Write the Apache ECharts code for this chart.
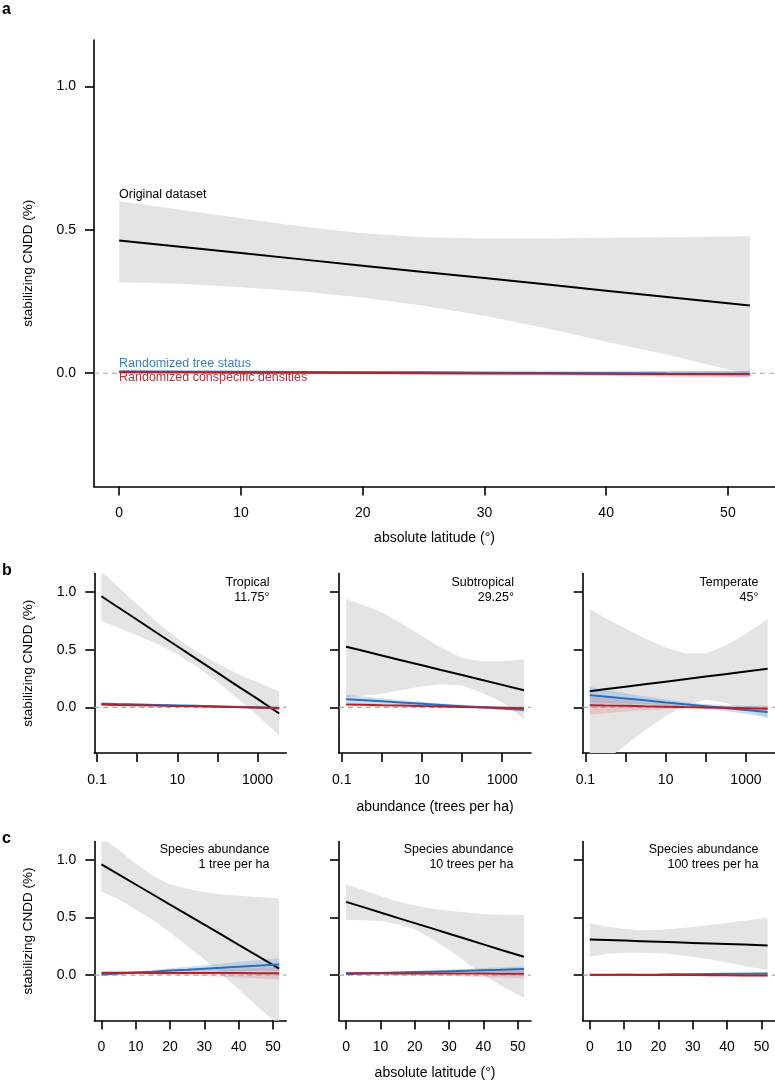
<!DOCTYPE html>
<html><head><meta charset="utf-8">
<script src="https://cdn.jsdelivr.net/npm/echarts@6/dist/echarts.min.js"></script>
<style>html,body{margin:0;padding:0;background:#fff}#c{width:775px;height:1086px}</style>
</head><body><div id="c"></div>
<script>
// ---------- data ----------
const latX = [0, 5, 10, 15, 20, 25, 30, 35, 40, 45, 51.8];
const abundX = [0.129, 0.3, 1, 3, 10, 30, 100, 300, 1000, 3470];
const latTicks = [0, 10, 20, 30, 40, 50];
const abundTicks = [0.1, 1, 10, 100, 1000];
const abundLabels = [0.1, 10, 1000];
const yTicks = [0, 0.5, 1];

// panel a
const aMean = [0.463, 0.441, 0.419, 0.397, 0.375, 0.353, 0.332, 0.310, 0.288, 0.266, 0.236];
const aHi = [0.600, 0.570, 0.540, 0.512, 0.488, 0.474, 0.470, 0.470, 0.472, 0.474, 0.478];
const aLo = [0.317, 0.312, 0.300, 0.285, 0.264, 0.235, 0.200, 0.158, 0.110, 0.065, -0.005];
const aBlue = [0.006, 0.005, 0.005, 0.004, 0.003, 0.003, 0.002, 0.001, 0.000, -0.001, -0.002];
const aBlueHi = [0.012, 0.010, 0.009, 0.008, 0.007, 0.007, 0.007, 0.007, 0.007, 0.008, 0.009];
const aBlueLo = [0.000, 0.000, 0.001, 0.000, -0.001, -0.001, -0.003, -0.005, -0.007, -0.010, -0.013];
const aRed = [0.004, 0.003, 0.002, 0.002, 0.001, 0.000, -0.001, -0.001, -0.002, -0.003, -0.004];
const aRedHi = [0.010, 0.008, 0.007, 0.006, 0.005, 0.005, 0.005, 0.005, 0.006, 0.007, 0.008];
const aRedLo = [-0.002, -0.002, -0.003, -0.002, -0.003, -0.005, -0.007, -0.008, -0.010, -0.013, -0.016];

// panel b1 Tropical
const b1Mean = [0.965, 0.880, 0.761, 0.650, 0.531, 0.421, 0.302, 0.191, 0.074, -0.052];
const b1Hi = [1.180, 1.060, 0.896, 0.745, 0.601, 0.486, 0.382, 0.296, 0.219, 0.138];
const b1Lo = [0.750, 0.700, 0.626, 0.555, 0.461, 0.356, 0.222, 0.086, -0.071, -0.242];
const b1Blue = [0.033, 0.030, 0.026, 0.022, 0.018, 0.014, 0.009, 0.005, 0.000, -0.006];
const b1BlueHi = [0.045, 0.041, 0.035, 0.030, 0.025, 0.021, 0.017, 0.014, 0.011, 0.008];
const b1BlueLo = [0.021, 0.019, 0.017, 0.014, 0.011, 0.007, 0.001, -0.004, -0.011, -0.020];
const b1Red = [0.025, 0.022, 0.019, 0.016, 0.013, 0.010, 0.007, 0.003, 0.000, -0.004];
const b1RedHi = [0.037, 0.033, 0.028, 0.024, 0.020, 0.017, 0.014, 0.012, 0.010, 0.009];
const b1RedLo = [0.013, 0.011, 0.010, 0.008, 0.006, 0.003, 0.000, -0.006, -0.010, -0.017];

// panel b2 Subtropical
const b2Mean = [0.527, 0.496, 0.451, 0.410, 0.366, 0.325, 0.281, 0.240, 0.196, 0.150];
const b2Hi = [0.943, 0.895, 0.825, 0.730, 0.620, 0.520, 0.430, 0.400, 0.400, 0.416];
const b2Lo = [0.084, 0.100, 0.120, 0.150, 0.185, 0.200, 0.190, 0.130, 0.045, -0.100];
const b2Blue = [0.072, 0.064, 0.053, 0.043, 0.032, 0.022, 0.011, 0.001, -0.009, -0.020];
const b2BlueHi = [0.110, 0.097, 0.079, 0.063, 0.047, 0.035, 0.023, 0.013, 0.005, -0.003];
const b2BlueLo = [0.034, 0.031, 0.027, 0.023, 0.017, 0.009, -0.001, -0.011, -0.023, -0.037];
const b2Red = [0.026, 0.023, 0.019, 0.016, 0.012, 0.009, 0.005, 0.002, -0.002, -0.006];
const b2RedHi = [0.040, 0.035, 0.030, 0.025, 0.020, 0.016, 0.013, 0.011, 0.009, 0.008];
const b2RedLo = [0.012, 0.011, 0.008, 0.007, 0.004, 0.002, -0.003, -0.007, -0.013, -0.020];

// panel b3 Temperate
const b3Mean = [0.141, 0.157, 0.180, 0.201, 0.224, 0.245, 0.268, 0.289, 0.312, 0.336];
const b3Hi = [0.851, 0.781, 0.685, 0.601, 0.521, 0.470, 0.470, 0.534, 0.640, 0.765];
const b3Lo = [-0.569, -0.467, -0.325, -0.199, -0.073, 0.020, 0.067, 0.044, -0.020, -0.095];
const b3Blue = [0.107, 0.095, 0.078, 0.062, 0.044, 0.028, 0.011, -0.005, -0.022, -0.040];
const b3BlueHi = [0.177, 0.155, 0.123, 0.097, 0.069, 0.048, 0.031, 0.020, 0.013, 0.005];
const b3BlueLo = [0.037, 0.035, 0.033, 0.027, 0.019, 0.008, -0.009, -0.030, -0.057, -0.085];
const b3Red = [0.020, 0.017, 0.014, 0.010, 0.007, 0.003, 0.000, -0.003, -0.007, -0.011];
const b3RedHi = [0.100, 0.085, 0.064, 0.045, 0.029, 0.018, 0.012, 0.012, 0.015, 0.019];
const b3RedLo = [-0.060, -0.051, -0.036, -0.025, -0.015, -0.012, -0.012, -0.018, -0.029, -0.041];

// panel c1 1 tree per ha
const c1Mean = [0.963, 0.876, 0.788, 0.701, 0.613, 0.526, 0.438, 0.351, 0.263, 0.176, 0.057];
const c1Hi = [1.200, 1.090, 0.970, 0.865, 0.790, 0.750, 0.720, 0.700, 0.690, 0.680, 0.667];
const c1Lo = [0.725, 0.660, 0.570, 0.480, 0.370, 0.253, 0.135, 0.005, -0.125, -0.260, -0.440];
const c1Blue = [0.005, 0.013, 0.022, 0.030, 0.039, 0.047, 0.056, 0.064, 0.073, 0.081, 0.093];
const c1BlueHi = [0.015, 0.023, 0.034, 0.045, 0.059, 0.072, 0.086, 0.099, 0.113, 0.126, 0.148];
const c1BlueLo = [-0.005, 0.003, 0.010, 0.015, 0.019, 0.022, 0.026, 0.029, 0.033, 0.036, 0.038];
const c1Red = [0.020, 0.020, 0.020, 0.019, 0.019, 0.019, 0.018, 0.018, 0.018, 0.017, 0.017];
const c1RedHi = [0.030, 0.031, 0.033, 0.035, 0.038, 0.042, 0.046, 0.051, 0.056, 0.062, 0.072];
const c1RedLo = [0.010, 0.009, 0.007, 0.003, 0.000, -0.004, -0.010, -0.015, -0.020, -0.028, -0.038];

// panel c2 10 trees per ha
const c2Mean = [0.637, 0.591, 0.545, 0.498, 0.452, 0.406, 0.360, 0.314, 0.267, 0.221, 0.159];
const c2Hi = [0.789, 0.740, 0.690, 0.640, 0.605, 0.578, 0.560, 0.545, 0.532, 0.525, 0.522];
const c2Lo = [0.480, 0.478, 0.470, 0.445, 0.400, 0.315, 0.220, 0.110, 0.000, -0.090, -0.200];
const c2Blue = [0.010, 0.014, 0.018, 0.022, 0.026, 0.030, 0.034, 0.038, 0.042, 0.046, 0.052];
const c2BlueHi = [0.018, 0.021, 0.025, 0.030, 0.035, 0.041, 0.047, 0.054, 0.061, 0.068, 0.080];
const c2BlueLo = [0.002, 0.007, 0.011, 0.014, 0.017, 0.019, 0.021, 0.022, 0.023, 0.024, 0.024];
const c2Red = [0.015, 0.015, 0.015, 0.014, 0.014, 0.014, 0.013, 0.013, 0.013, 0.012, 0.012];
const c2RedHi = [0.030, 0.029, 0.028, 0.028, 0.029, 0.031, 0.034, 0.038, 0.042, 0.046, 0.052];
const c2RedLo = [0.000, 0.001, 0.002, 0.000, -0.001, -0.003, -0.008, -0.012, -0.016, -0.022, -0.028];

// panel c3 100 trees per ha
const c3Mean = [0.310, 0.305, 0.300, 0.295, 0.290, 0.285, 0.280, 0.275, 0.270, 0.265, 0.258];
const c3Hi = [0.450, 0.420, 0.400, 0.390, 0.392, 0.403, 0.418, 0.435, 0.452, 0.472, 0.498];
const c3Lo = [0.160, 0.185, 0.195, 0.195, 0.190, 0.180, 0.160, 0.137, 0.110, 0.078, 0.043];
const c3Blue = [0.000, 0.001, 0.003, 0.004, 0.005, 0.007, 0.008, 0.010, 0.011, 0.012, 0.014];
const c3BlueHi = [0.006, 0.006, 0.007, 0.008, 0.009, 0.011, 0.013, 0.015, 0.017, 0.019, 0.022];
const c3BlueLo = [-0.006, -0.004, -0.001, 0.000, 0.001, 0.003, 0.003, 0.005, 0.005, 0.005, 0.006];
const c3Red = [0.003, 0.002, 0.002, 0.001, 0.001, 0.000, 0.000, -0.001, -0.002, -0.003, -0.004];
const c3RedHi = [0.008, 0.007, 0.006, 0.005, 0.005, 0.004, 0.005, 0.005, 0.005, 0.005, 0.005];
const c3RedLo = [-0.002, -0.003, -0.002, -0.003, -0.003, -0.004, -0.005, -0.007, -0.009, -0.011, -0.013];

// ---------- styling ----------
const FONT = "'Liberation Sans', Arial, Helvetica, sans-serif";
const BLACK = '#000000', BLUE = '#2b6db6', RED = '#b3212d';
const GRAY_BAND = '#e4e4e4', BLUE_BAND = 'rgba(110,170,225,0.35)', RED_BAND = 'rgba(205,70,80,0.18)';
const Y_MIN = -0.395, Y_MAX = 1.162;
const LAT_MIN = -2.07, LAT_MAX = 53.87;
const AB_MIN = Math.pow(10, -1.067), AB_MAX = Math.pow(10, 3.717);

const colsX = [94.3, 339, 582.7];
const panels = [
  {grid:{left:94, top:40, width:681, height:446.5}, log:false, x:latX, mean:aMean, hi:aHi, lo:aLo,
   blue:aBlue, blueHi:aBlueHi, blueLo:aBlueLo, red:aRed, redHi:aRedHi, redLo:aRedLo,
   yLabels:true, yName:'stabilizing CNDD (%)', xName:'absolute latitude (°)', nameGap:45},
  {grid:{left:colsX[0], top:573.5, width:192, height:179.5}, log:true, x:abundX, mean:b1Mean, hi:b1Hi, lo:b1Lo,
   blue:b1Blue, blueHi:b1BlueHi, blueLo:b1BlueLo, red:b1Red, redHi:b1RedHi, redLo:b1RedLo,
   yLabels:true, yName:'stabilizing CNDD (%)', xName:''},
  {grid:{left:colsX[1], top:573.5, width:192, height:179.5}, log:true, x:abundX, mean:b2Mean, hi:b2Hi, lo:b2Lo,
   blue:b2Blue, blueHi:b2BlueHi, blueLo:b2BlueLo, red:b2Red, redHi:b2RedHi, redLo:b2RedLo,
   yLabels:false, yName:'', xName:'abundance (trees per ha)', nameGap:47},
  {grid:{left:colsX[2], top:573.5, width:192, height:179.5}, log:true, x:abundX, mean:b3Mean, hi:b3Hi, lo:b3Lo,
   blue:b3Blue, blueHi:b3BlueHi, blueLo:b3BlueLo, red:b3Red, redHi:b3RedHi, redLo:b3RedLo,
   yLabels:false, yName:'', xName:''},
  {grid:{left:colsX[0], top:841.5, width:192, height:179}, log:false, x:latX, mean:c1Mean, hi:c1Hi, lo:c1Lo,
   blue:c1Blue, blueHi:c1BlueHi, blueLo:c1BlueLo, red:c1Red, redHi:c1RedHi, redLo:c1RedLo,
   yLabels:true, yName:'stabilizing CNDD (%)', xName:''},
  {grid:{left:colsX[1], top:841.5, width:192, height:179}, log:false, x:latX, mean:c2Mean, hi:c2Hi, lo:c2Lo,
   blue:c2Blue, blueHi:c2BlueHi, blueLo:c2BlueLo, red:c2Red, redHi:c2RedHi, redLo:c2RedLo,
   yLabels:false, yName:'', xName:'absolute latitude (°)', nameGap:46},
  {grid:{left:colsX[2], top:841.5, width:192, height:179}, log:false, x:latX, mean:c3Mean, hi:c3Hi, lo:c3Lo,
   blue:c3Blue, blueHi:c3BlueHi, blueLo:c3BlueLo, red:c3Red, redHi:c3RedHi, redLo:c3RedLo,
   yLabels:false, yName:'', xName:''}
];

const axisLineStyle = {color:'#000', width:1.6};
const labelStyle = {fontSize:14, color:'#000', fontFamily:FONT};

const grids = [], xAxes = [], yAxes = [], series = [];

function band(i, xs, lo, hi, color) {
  return {type:'custom', xAxisIndex:i, yAxisIndex:i, clip:true, silent:true,
    data:[[xs[0], lo[0]]],
    renderItem: function (params, api) {
      const pts = [];
      for (let k = 0; k < xs.length; k++) pts.push(api.coord([xs[k], hi[k]]));
      for (let k = xs.length - 1; k >= 0; k--) pts.push(api.coord([xs[k], lo[k]]));
      return {type:'polygon', shape:{points:pts}, style:{fill:color}};
    }};
}
function zeroLine(i, xref) {
  return {type:'custom', xAxisIndex:i, yAxisIndex:i, silent:true,
    data:[[xref, 0]],
    renderItem: function (params, api) {
      const cs = params.coordSys;
      const y = api.coord([xref, 0])[1];
      return {type:'line', shape:{x1:cs.x, y1:y, x2:cs.x + cs.width, y2:y},
        style:{stroke:'#a8a8a8', lineWidth:1.2, lineDash:[5, 4]}};
    }};
}
function line(i, xs, ys, color, w) {
  return {type:'line', xAxisIndex:i, yAxisIndex:i, showSymbol:false, symbol:'none', silent:true,
    data: xs.map((x, k) => [x, ys[k]]), lineStyle:{color:color, width:w}, itemStyle:{color:color},
    animation:false};
}

panels.forEach((p, i) => {
  grids.push(Object.assign({containLabel:false}, p.grid));
  const xa = {
    gridIndex:i, splitLine:{show:false},
    axisLine:{onZero:false, lineStyle:axisLineStyle},
    axisTick:{length:9, lineStyle:axisLineStyle, customValues: p.log ? abundTicks : latTicks},
    axisLabel:Object.assign({margin:20, customValues: p.log ? abundLabels : latTicks,
      formatter: v => String(v)}, labelStyle),
    name:p.xName, nameLocation:'middle', nameGap:p.nameGap || 46,
    nameTextStyle:{fontSize:14, color:'#000', fontFamily:FONT}
  };
  if (p.log) Object.assign(xa, {type:'log', logBase:10, min:AB_MIN, max:AB_MAX});
  else Object.assign(xa, {type:'value', min:LAT_MIN, max:LAT_MAX});
  xAxes.push(xa);
  yAxes.push({
    type:'value', gridIndex:i, min:Y_MIN, max:Y_MAX, splitLine:{show:false},
    axisLine:{onZero:false, lineStyle:axisLineStyle},
    axisTick:{length:9, lineStyle:axisLineStyle, customValues:yTicks},
    axisLabel:Object.assign({show:p.yLabels, margin:18, customValues:yTicks,
      formatter: v => v.toFixed(1)}, labelStyle),
    name:p.yName, nameLocation:'middle', nameRotate:90, nameGap:59,
    nameTextStyle:{fontSize:13.5, color:'#000', fontFamily:FONT}
  });
  series.push(band(i, p.x, p.lo, p.hi, GRAY_BAND));
  series.push(band(i, p.x, p.blueLo, p.blueHi, BLUE_BAND));
  series.push(band(i, p.x, p.redLo, p.redHi, RED_BAND));
  series.push(zeroLine(i, p.log ? 1 : 0));
  series.push(line(i, p.x, p.mean, BLACK, 2));
  series.push(line(i, p.x, p.blue, BLUE, 2));
  series.push(line(i, p.x, p.red, RED, 2));
});

function txt(s, x, y, opts) {
  return {type:'text', x:x, y:y, silent:true,
    style:Object.assign({text:s, fill:'#000', fontSize:12.5, fontFamily:FONT,
      align:'left', verticalAlign:'middle'}, opts || {})};
}
const graphics = [
  txt('a', 2, 10, {fontSize:16, fontWeight:'bold'}),
  txt('b', 2, 571, {fontSize:16, fontWeight:'bold'}),
  txt('c', 2, 839, {fontSize:16, fontWeight:'bold'}),
  txt('Original dataset', 119, 195),
  txt('Randomized tree status', 119, 364, {fill:'#3a7fc0'}),
  txt('Randomized conspecific densities', 119, 378, {fill:'#b3323b'}),
  txt('Tropical', 269.5, 583, {align:'right'}),
  txt('11.75°', 269.5, 598, {align:'right'}),
  txt('Subtropical', 514, 583, {align:'right'}),
  txt('29.25°', 514, 598, {align:'right'}),
  txt('Temperate', 758.5, 583, {align:'right'}),
  txt('45°', 758.5, 598, {align:'right'}),
  txt('Species abundance', 269.5, 850, {align:'right'}),
  txt('1 tree per ha', 269.5, 864.5, {align:'right'}),
  txt('Species abundance', 513.5, 850, {align:'right'}),
  txt('10 trees per ha', 513.5, 864.5, {align:'right'}),
  txt('Species abundance', 758.5, 850, {align:'right'}),
  txt('100 trees per ha', 758.5, 864.5, {align:'right'})
];

const chart = echarts.init(document.getElementById('c'), null, {renderer:'canvas'});
chart.setOption({
  animation:false,
  backgroundColor:'#ffffff',
  grid:grids, xAxis:xAxes, yAxis:yAxes, series:series, graphic:graphics
});
</script>
</body></html>
